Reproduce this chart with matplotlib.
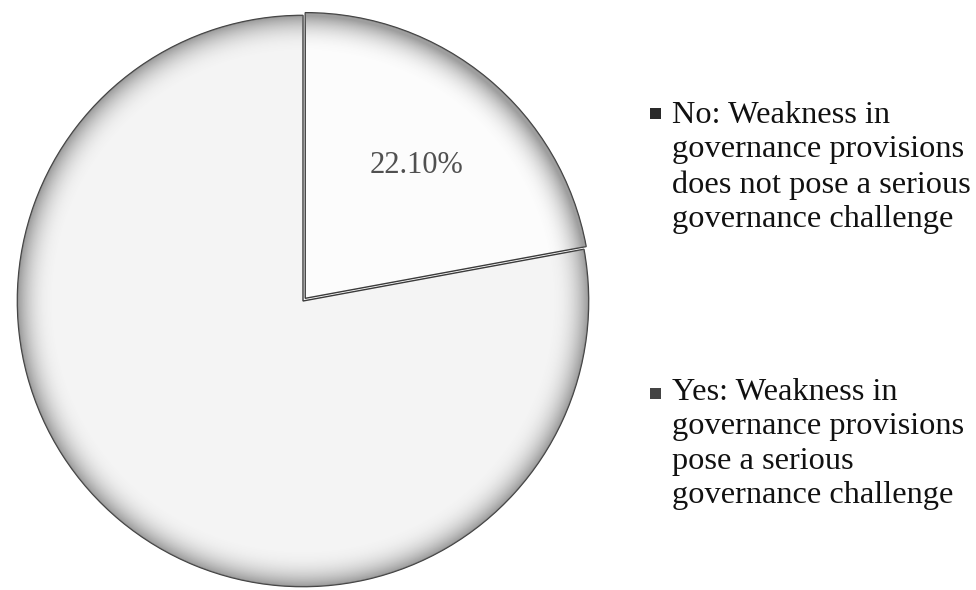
import numpy as np
import matplotlib
matplotlib.use("Agg")
import matplotlib.pyplot as plt
from matplotlib.patches import Rectangle

labels = [
    "No: Weakness in\ngovernance provisions\ndoes not pose a serious\ngovernance challenge",
    "Yes: Weakness in\ngovernance provisions\npose a serious\ngovernance challenge",
]
shares = [22.10, 77.90]
shown_labels = ["22.10%", ""]

plt.rcParams["font.family"] = ["Liberation Serif", "DejaVu Serif"]

fig = plt.figure(figsize=(9.76, 5.90), dpi=100)
W, H = 976, 590
cx, cy, R = 303, 301, 290
ax = fig.add_axes([(cx - R) / W, (H - cy - R) / H, 2 * R / W, 2 * R / H])
ax.set_aspect("equal")
ax.axis("off")

wedges, _ = ax.pie(
    shares,
    startangle=90,
    counterclock=False,
    colors=["#fcfcfc", "#f4f4f4"],
    explode=[0.012, 0.0],
    radius=0.985,
    wedgeprops=dict(edgecolor="#3a3a3a", linewidth=1.0),
)
ax.set_xlim(-1, 1)
ax.set_ylim(-1, 1)

# soft grey shading towards the rim of each slice
n = 700
yy, xx = np.mgrid[-1:1:n * 1j, -1:1:n * 1j]
rr = np.hypot(xx, yy)
alpha = np.clip((rr - 0.85) / 0.135, 0, 1) ** 2.5 * 0.65
rgba = np.zeros((n, n, 4))
rgba[..., :3] = 0.42
rgba[..., 3] = alpha
for w in wedges:
    im = ax.imshow(rgba, extent=[-1, 1, -1, 1], origin="lower", zorder=3,
                   interpolation="bilinear")
    im.set_clip_path(w)

# slice value label
theta = np.deg2rad(90 - shares[0] / 100 * 360 / 2)
ax.text(0.62 * np.cos(theta) - 0.005, 0.62 * np.sin(theta) - 0.01, shown_labels[0],
        ha="center", va="center", fontsize=22, color="#505050", zorder=5)

# legend entries: marker square beside a wrapped label
# (y of the last line's baseline, top of the marker), in pixels from the top
legend_rows = [(227, 108), (503, 388)]
marker_colors = ["#2a2a2a", "#444444"]
for lab, (base_y, mk_y), mc in zip(labels, legend_rows, marker_colors):
    fig.text(672 / W, 1 - base_y / H, lab, ha="left", va="baseline",
             fontsize=23.3, linespacing=1.25, color="#111111")
    fig.patches.append(Rectangle((650 / W, 1 - (mk_y + 11) / H), 11 / W, 11 / H,
                                 transform=fig.transFigure, facecolor=mc,
                                 edgecolor="none"))

fig.savefig("out.png", dpi=100, facecolor="white")
